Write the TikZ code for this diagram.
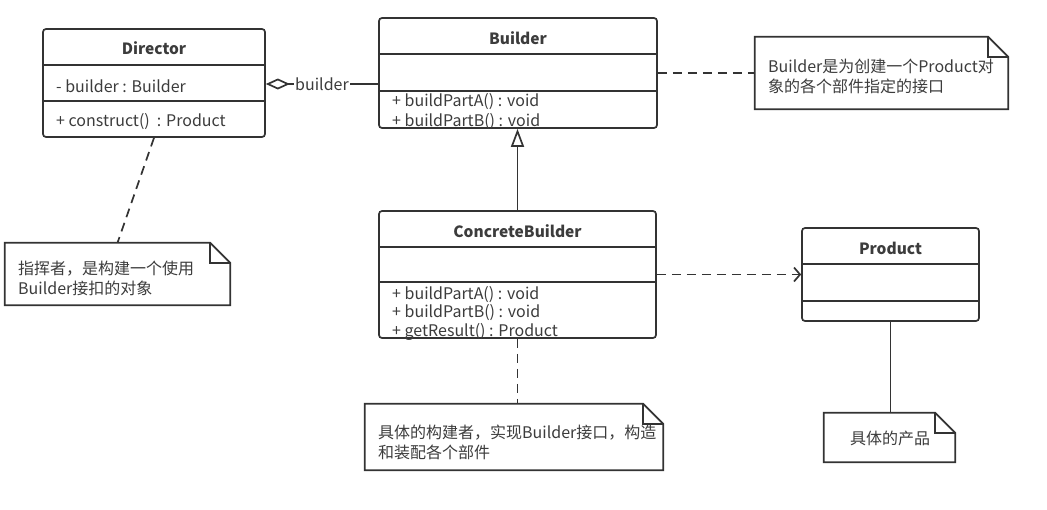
\documentclass[tikz,border=0pt]{standalone}
\usepackage{fontspec}
\setmainfont{Noto Sans CJK SC}
\usetikzlibrary{arrows.meta,calc}
\definecolor{lc}{HTML}{333333}
\definecolor{tc}{HTML}{3C3C3C}
\tikzset{
  cls/.style={draw=lc, line width=1.7pt, rounded corners=3pt, fill=white, inner sep=0pt},
  ln/.style={draw=lc, line width=1.7pt},
  dsh/.style={draw=lc, line width=1.7pt, dash pattern=on 9pt off 6pt},
  ctitle/.style={font=\bfseries\fontsize{15.5}{18}\selectfont, text=tc, inner sep=0pt},
  member/.style={anchor=west, font=\fontsize{16}{18}\selectfont, text=tc, inner sep=0pt},
  notebox/.style={inner sep=0pt},
  notetext/.style={anchor=west, align=left, font=\fontsize{16}{20}\selectfont, text=tc, inner sep=0pt},
}
\newcommand{\notefold}[2]{%
  \draw[ln, fill=white] (#1.north west) -- ($(#1.north east)+(-#2,0)$) -- ($(#1.north east)+(0,#2)$) -- (#1.south east) -- (#1.south west) -- cycle;
  \draw[ln] ($(#1.north east)+(-#2,0)$) -- ($(#1.north east)+(-#2,#2)$) -- ($(#1.north east)+(0,#2)$);
}
\begin{document}
\begin{tikzpicture}[x=1pt,y=-1pt]
\useasboundingbox[fill=white] (0,0) rectangle (1047,509);

% Director
\node[cls, minimum width=222pt, minimum height=108pt] (director) at (154,83) {};
\draw[ln] (43,65) -- (265,65);
\draw[ln] (43,101) -- (265,101);
\node[ctitle] (dtitle) at (154,48) {Director};
\node[member] (dm1) at (56,86) {- builder : Builder};
\node[member] (dm2) at (56,122) {+ construct()~ : Product};

% Builder
\node[cls, minimum width=278pt, minimum height=110pt] (builder) at (518,73) {};
\draw[ln] (379,54) -- (657,54);
\draw[ln] (379,91) -- (657,91);
\node[ctitle] (btitle) at (518,38) {Builder};
\node[member] (bm1) at (392,102) {+ buildPartA() : void};
\node[member] (bm2) at (392,122) {+ buildPartB() : void};

% ConcreteBuilder
\node[cls, minimum width=277pt, minimum height=127pt] (cb) at (517.5,274.5) {};
\draw[ln] (379,247) -- (656,247);
\draw[ln] (379,282) -- (656,282);
\node[ctitle] (cbtitle) at (517.5,231) {ConcreteBuilder};
\node[member] (cbm1) at (392,295) {+ buildPartA() : void};
\node[member] (cbm2) at (392,313) {+ buildPartB() : void};
\node[member] (cbm3) at (392,332) {+ getResult() : Product};

% Product
\node[cls, minimum width=177pt, minimum height=93pt] (product) at (890.5,274.5) {};
\draw[ln] (802,264) -- (979,264);
\draw[ln] (802,301) -- (979,301);
\node[ctitle] (ptitle) at (890.5,248) {Product};

% Notes
\node[notebox, minimum width=253pt, minimum height=72pt] (bnote) at (881.5,73) {};
\notefold{bnote}{20}
\node[notetext] (bnotet) at (768,76) {Builder是为创建一个Product对\\象的各个部件指定的接口};

\node[notebox, minimum width=225pt, minimum height=62pt] (dnote) at (117.5,274) {};
\notefold{dnote}{20}
\node[notetext] (dnotet) at (18,278) {指挥者，是构建一个使用\\Builder接扣的对象};

\node[notebox, minimum width=298pt, minimum height=66pt] (cbnote) at (514,437) {};
\notefold{cbnote}{20}
\node[notetext] (cbnotet) at (365,442) {\hspace{13pt}具体的构建者，实现Builder接口，构造\\\hspace{13pt}和装配各个部件};

\node[notebox, minimum width=131pt, minimum height=49pt] (pnote) at (889.5,437.5) {};
\notefold{pnote}{20}
\node[notetext, anchor=center] (pnotet) at (890,438) {具体的产品};

% Connectors
\draw[ln, {Diamond[open, length=24pt, width=11pt, line width=1.7pt]}-] (director.east |- 0,84) -- node[fill=white, inner sep=1pt, font=\fontsize{16}{18}\selectfont, text=tc] (agglabel) {builder} (builder.west |- 0,84);
\draw[ln, -{Triangle[open, length=18pt, width=13pt, line width=1.7pt]}] (cb.north) -- (cb.north |- builder.south);
\draw[dsh, -{Straight Barb[length=6pt, width=14pt, line width=1.7pt]}] (cb.east) -- (product.west);
\draw[dsh] (builder.east) -- (bnote.west);
\draw[dsh] (director.south) -- (dnote.north);
\draw[dsh] (cb.south) -- (cb.south |- cbnote.north);
\draw[ln] (product.south) -- (product.south |- pnote.north);
\end{tikzpicture}
\end{document}
